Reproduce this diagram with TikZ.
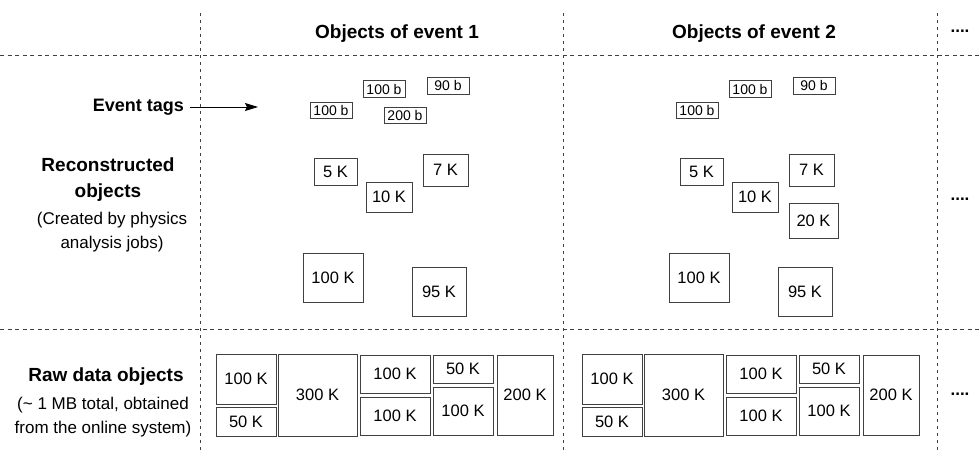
\documentclass[tikz,border=0pt]{standalone}
\usepackage{fontspec}
\setmainfont{Liberation Sans}
\usetikzlibrary{arrows.meta}

\begin{document}
\begin{tikzpicture}[
    x=1pt, y=-1pt,
    obj/.style={rectangle, draw=black!75, line width=0.9pt, inner sep=0pt,
                font=\fontsize{16.5}{18}\selectfont},
    tagbox/.style={rectangle, draw=black!75, line width=0.8pt, inner sep=0pt,
                   minimum width=42pt, font=\fontsize{14}{15}\selectfont},
    hdr/.style={font=\bfseries\fontsize{19}{26}\selectfont, align=center},
    note/.style={font=\fontsize{17}{24}\selectfont, align=center},
    dots/.style={font=\bfseries\fontsize{17}{20}\selectfont},
    hsep/.style={draw=black!75, line width=0.7pt, dash pattern=on 4pt off 3.5pt},
    vsep/.style={draw=black!75, line width=0.7pt, dash pattern=on 3pt off 4pt},
    arr/.style={-{Stealth[length=13pt, width=8pt, inset=2pt]}, line width=0.8pt},
  ]
  \useasboundingbox (0,0) rectangle (979,453);

  % === grid ===
  \draw[hsep] (0,55) -- (979,55);
  \draw[hsep] (0,329) -- (979,329);
  \draw[vsep] (200,13) -- (200,453);
  \draw[vsep] (563,13) -- (563,453);
  \draw[vsep] (937,13) -- (937,453);

  % === headings ===
  \node[hdr] (head1) at (397,33.5) {Objects of event 1};
  \node[hdr] (head2) at (754,33.5) {Objects of event 2};
  \node[dots] (more1) at (960,31) {....};

  % === row labels ===
  \node[hdr, font=\bfseries\fontsize{18}{22}\selectfont, anchor=east, inner sep=3pt] (tags) at (187,107) {Event tags};
  \coordinate (tagtip) at (258,107);
  \draw[arr, shorten <=3pt] (tags.east) -- (tagtip);

  \node[hdr] (recon) at (108,180) {Reconstructed\\objects};
  \node[note] (reconnote) at (112,232) {(Created by physics\\analysis jobs)};

  \node[hdr] (raw) at (106,376.5) {Raw data objects};
  \node[note] (rawnote) at (103,417) {(\textasciitilde{} 1 MB total, obtained\\from the online system)};

  % === event 1 ===
  \node[tagbox, minimum height=16pt] (e1tag1) at (331,110.5) {100 b};
  \node[tagbox, minimum height=17pt] (e1tag2) at (384,89) {100 b};
  \node[tagbox, minimum height=16pt] (e1tag3) at (405,115) {200 b};
  \node[tagbox, minimum height=17pt] (e1tag4) at (448,85.5) {90 b};

  \node[obj, minimum width=43pt, minimum height=27pt] (e1rec5) at (335.5,171.5) {5 K};
  \node[obj, minimum width=45pt, minimum height=32pt] (e1rec7) at (445.5,170) {7 K};
  \node[obj, minimum width=46pt, minimum height=30pt] (e1rec10) at (389,197) {10 K};
  \node[obj, minimum width=60pt, minimum height=49pt] (e1rec100) at (333,277.5) {100 K};
  \node[obj, minimum width=54pt, minimum height=49pt] (e1rec95) at (439,291.5) {95 K};

  \node[obj, minimum width=60pt, minimum height=50pt] (e1raw1) at (246,379) {100 K};
  \node[obj, minimum width=60pt, minimum height=29pt] (e1raw2) at (246,421.5) {50 K};
  \node[obj, minimum width=79pt, minimum height=82pt] (e1raw3) at (317.5,395) {300 K};
  \node[obj, minimum width=70pt, minimum height=38pt] (e1raw4) at (395,374) {100 K};
  \node[obj, minimum width=70pt, minimum height=38pt] (e1raw5) at (395,416) {100 K};
  \node[obj, minimum width=60pt, minimum height=28pt] (e1raw6) at (463,369) {50 K};
  \node[obj, minimum width=60pt, minimum height=48pt] (e1raw7) at (463,411) {100 K};
  \node[obj, minimum width=56pt, minimum height=80pt] (e1raw8) at (525,395) {200 K};

  % === event 2 ===
  \node[tagbox, minimum height=16pt] (e2tag1) at (697,110.5) {100 b};
  \node[tagbox, minimum height=17pt] (e2tag2) at (750,89) {100 b};
  \node[tagbox, minimum height=17pt] (e2tag4) at (814,85.5) {90 b};

  \node[obj, minimum width=43pt, minimum height=27pt] (e2rec5) at (701.5,171.5) {5 K};
  \node[obj, minimum width=45pt, minimum height=32pt] (e2rec7) at (811.5,170) {7 K};
  \node[obj, minimum width=46pt, minimum height=30pt] (e2rec10) at (755,197) {10 K};
  \node[obj, minimum width=49pt, minimum height=35pt] (e2rec20) at (813.5,220.5) {20 K};
  \node[obj, minimum width=60pt, minimum height=49pt] (e2rec100) at (699,277.5) {100 K};
  \node[obj, minimum width=54pt, minimum height=49pt] (e2rec95) at (805,291.5) {95 K};

  \node[obj, minimum width=60pt, minimum height=50pt] (e2raw1) at (612,379) {100 K};
  \node[obj, minimum width=60pt, minimum height=29pt] (e2raw2) at (612,421.5) {50 K};
  \node[obj, minimum width=79pt, minimum height=82pt] (e2raw3) at (683.5,395) {300 K};
  \node[obj, minimum width=70pt, minimum height=38pt] (e2raw4) at (761,374) {100 K};
  \node[obj, minimum width=70pt, minimum height=38pt] (e2raw5) at (761,416) {100 K};
  \node[obj, minimum width=60pt, minimum height=28pt] (e2raw6) at (829,369) {50 K};
  \node[obj, minimum width=60pt, minimum height=48pt] (e2raw7) at (829,411) {100 K};
  \node[obj, minimum width=56pt, minimum height=80pt] (e2raw8) at (891,395) {200 K};

  % further events
  \node[dots] (more2) at (960,199) {....};
  \node[dots] (more3) at (960,394) {....};

\end{tikzpicture}
\end{document}
